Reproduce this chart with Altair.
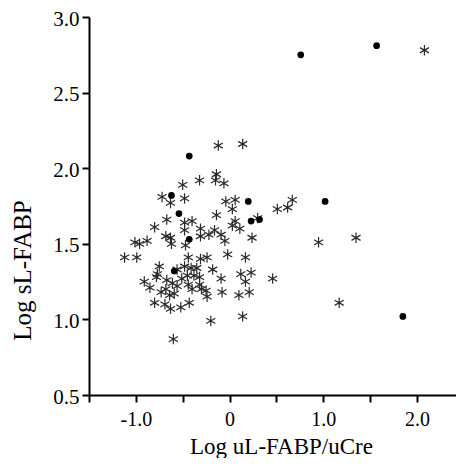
import altair as alt
import pandas as pd

# Asterisk series
ast_x = [-0.12, 0.14, -0.14, -0.15, -0.06, -0.32, -0.50, -0.72, -0.63, -0.48,
         -0.04, 0.06, 0.03, 0.51, 0.62, 0.67, -0.14, 0.30, -0.67, -0.80,
         -0.48, -0.40, -0.48, -0.31, -0.31, -0.22, -0.16, -0.09, -0.05, 0.06,
         0.03, 0.11, 0.24, 0.95, 1.35, -1.01, -0.96, -0.88, -0.68, -0.63,
         -0.62, -0.47, -1.12, -0.99, -0.44, -0.31, -0.24, -0.02, 0.17, -0.75,
         -0.77, -0.78, -0.48, -0.41, -0.35, -0.38, -0.45, -0.18, -0.09, 0.12,
         0.23, 0.17, 0.46, -0.91, -0.85, -0.67, -0.61, -0.56, -0.68, -0.64,
         -0.59, -0.44, -0.40, -0.32, -0.30, -0.25, -0.24, -0.08, 0.10, 0.21,
         -0.32, -0.80, -0.69, -0.63, -0.52, -0.43, -0.20, 0.14, 1.17, -0.60,
         2.08, -0.56, -0.51, -0.73]
ast_y = [2.15, 2.16, 1.96, 1.92, 1.90, 1.92, 1.89, 1.81, 1.77, 1.80,
         1.78, 1.79, 1.73, 1.73, 1.74, 1.79, 1.69, 1.67, 1.66, 1.61,
         1.64, 1.65, 1.59, 1.60, 1.55, 1.56, 1.59, 1.56, 1.52, 1.65,
         1.62, 1.60, 1.54, 1.51, 1.54, 1.51, 1.50, 1.52, 1.55, 1.54,
         1.50, 1.49, 1.41, 1.41, 1.41, 1.40, 1.41, 1.43, 1.41, 1.35,
         1.30, 1.28, 1.35, 1.34, 1.34, 1.29, 1.29, 1.33, 1.27, 1.30,
         1.31, 1.25, 1.27, 1.25, 1.21, 1.26, 1.24, 1.22, 1.20, 1.16,
         1.17, 1.23, 1.20, 1.23, 1.20, 1.19, 1.15, 1.18, 1.16, 1.18,
         1.28, 1.11, 1.10, 1.07, 1.08, 1.11, 0.99, 1.02, 1.11, 0.87,
         2.78, 1.33, 1.27, 1.18]

# Filled-circle series
dot_x = [-0.43, -0.62, -0.54, -0.43, -0.59, 0.20, 0.23, 0.32, 0.76, 1.57, 1.02, 1.85]
dot_y = [2.08, 1.82, 1.70, 1.53, 1.32, 1.78, 1.65, 1.66, 2.75, 2.81, 1.78, 1.02]

x_ticks = [-1.5, -1.0, -0.5, 0.0, 0.5, 1.0, 1.5, 2.0]
y_ticks = [0.5, 1.0, 1.5, 2.0, 2.5, 3.0]

ast = pd.DataFrame({"x": ast_x, "y": ast_y})
dot = pd.DataFrame({"x": dot_x, "y": dot_y})

FONT = "Liberation Serif"
ASTERISK = "M0,-1L0,1M-0.866,-0.5L0.866,0.5M-0.866,0.5L0.866,-0.5"

xscale = alt.Scale(domain=[-1.5, 2.417], nice=False, zero=False)
yscale = alt.Scale(domain=[0.5, 3.0], nice=False, zero=False)

xaxis = alt.Axis(
    values=x_ticks,
    labelExpr=("datum.value == 0 ? '0' : (abs(datum.value % 1) < 1e-9 ? "
               "(datum.value < 0 ? '-' + format(-datum.value, '.1f') : format(datum.value, '.1f')) : '')"),
    title="Log uL-FABP/uCre",
    titleFont=FONT, titleFontSize=23, titleFontWeight="normal", titleColor="black",
    titleX=192, titleY=58, titleBaseline="alphabetic", titleAnchor="middle",
    labelFont=FONT, labelFontSize=20, labelColor="black", labelPadding=7,
    labelOverlap=False, labelFlush=False, labelBound=False,
    tickSize=7, tickWidth=2, tickColor="black",
    domainWidth=2, domainColor="black", grid=False,
)
yaxis = alt.Axis(
    values=y_ticks, format=".1f",
    title="Log sL-FABP",
    titleFont=FONT, titleFontSize=25, titleFontWeight="normal", titleColor="black",
    titleX=-67, titleY=253, titleAngle=270, titleAlign="center", titleBaseline="middle",
    labelFont=FONT, labelFontSize=21, labelColor="black", labelPadding=3, labelOffset=2,
    labelOverlap=False, labelFlush=False, labelBound=False,
    tickSize=7, tickWidth=2, tickColor="black",
    domainWidth=2, domainColor="black", grid=False,
)

stars = alt.Chart(ast).mark_point(
    shape=ASTERISK, size=110, stroke="#2a2a2a", strokeWidth=1.2, filled=False, opacity=1
).encode(
    x=alt.X("x:Q", scale=xscale, axis=xaxis),
    y=alt.Y("y:Q", scale=yscale, axis=yaxis),
)

dots = alt.Chart(dot).mark_circle(size=45, color="black", opacity=1).encode(
    x=alt.X("x:Q", scale=xscale),
    y=alt.Y("y:Q", scale=yscale),
)

chart = alt.layer(stars, dots).properties(
    width=367, height=378,
    autosize=alt.AutoSizeParams(type="none"),
    padding={"left": 81, "top": 9, "right": 0, "bottom": 63},
    background="white",
).configure_view(stroke=None)

chart.save("out.html", embed_options={"renderer": "svg", "actions": False})
